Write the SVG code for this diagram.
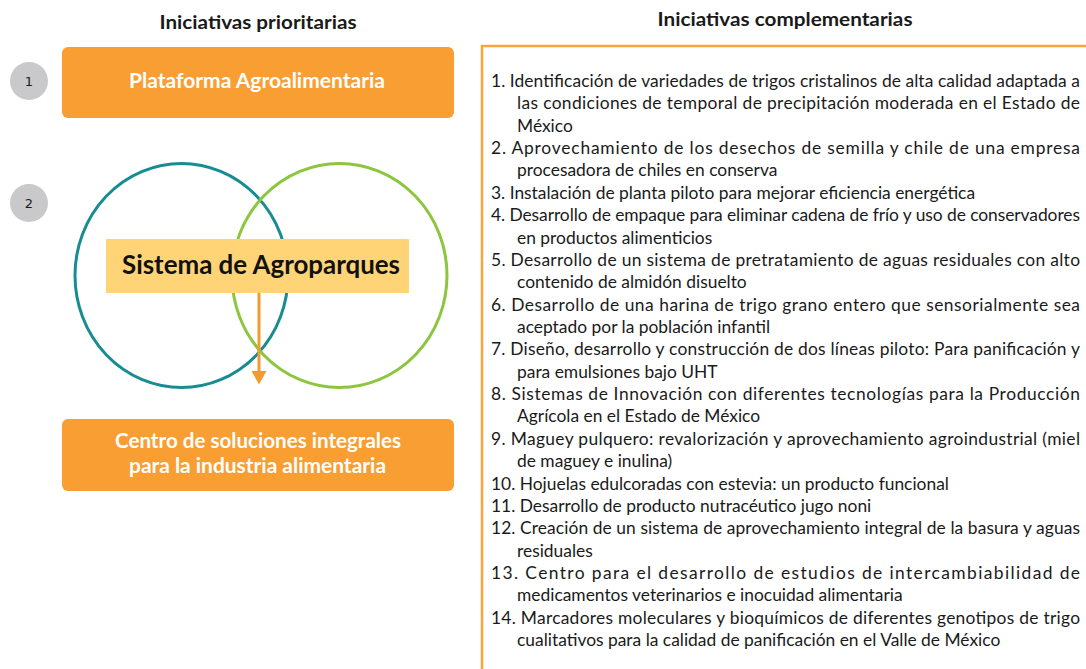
<svg xmlns="http://www.w3.org/2000/svg" width="1086" height="669" viewBox="0 0 1086 669">
<style>
.hdr{font-family:Lato,"Open Sans",sans-serif;font-weight:bold;font-size:19px;fill:#1a1a1a;text-anchor:middle}
.box{fill:#F89E33}
.boxt{font-family:Lato,"Open Sans",sans-serif;font-weight:bold;font-size:20.5px;fill:#ffffff;text-anchor:middle}
.num{fill:#C9C9CB}
.numt{font-family:"DejaVu Sans",sans-serif;font-size:13px;fill:#1a1a1a;text-anchor:middle}
.li{font-family:Lato,"Open Sans",sans-serif;font-size:17.4px;fill:#1a1a1a}
</style>
<defs>
<marker id="ah" markerWidth="5" markerHeight="5" refX="0" refY="2.5" orient="auto" markerUnits="strokeWidth">
<path d="M0,0 L4.5,2.5 L0,5 Z" fill="#F39A2E"/>
</marker>
</defs>
<rect width="1086" height="669" fill="#ffffff"/>
<text class="hdr" x="258" y="29" textLength="197" lengthAdjust="spacingAndGlyphs">Iniciativas prioritarias</text>
<text class="hdr" x="785" y="26" textLength="255" lengthAdjust="spacingAndGlyphs">Iniciativas complementarias</text>

<g id="badge1"><circle class="num" cx="29" cy="81" r="19"/><text class="numt" x="29" y="86">1</text></g>
<g id="badge2"><circle class="num" cx="29" cy="203" r="19"/><text class="numt" x="29" y="208">2</text></g>

<g id="plataforma">
<rect class="box" x="62" y="47" width="392" height="71" rx="6"/>
<text class="boxt" x="257" y="88" textLength="256" lengthAdjust="spacingAndGlyphs">Plataforma Agroalimentaria</text>
</g>

<g id="venn">
<ellipse cx="181.5" cy="275.5" rx="106.5" ry="112" fill="none" stroke="#178C92" stroke-width="3"/>
<ellipse cx="339.5" cy="275.5" rx="107.5" ry="112" fill="none" stroke="#8CC63F" stroke-width="3"/>
</g>

<g id="agroparques">
<rect x="106" y="239" width="303" height="54" fill="#FED476"/>
<text x="261" y="274" font-family="Lato,'Open Sans',sans-serif" font-weight="bold" font-size="26" fill="#111111" text-anchor="middle" textLength="278" lengthAdjust="spacingAndGlyphs">Sistema de Agroparques</text>
</g>

<g id="connectors">
<line x1="259" y1="293" x2="259" y2="371" stroke="#F39A2E" stroke-width="3" marker-end="url(#ah)"/>
</g>

<g id="centro">
<rect class="box" x="62" y="419" width="392" height="72" rx="6"/>
<text class="boxt" x="258" y="448" textLength="286" lengthAdjust="spacingAndGlyphs">Centro de soluciones integrales</text>
<text class="boxt" x="257.5" y="473" textLength="257" lengthAdjust="spacingAndGlyphs">para la industria alimentaria</text>
</g>

<g id="complementarias">
<path d="M482,1086 V46 H1086" fill="none" stroke="#F9A43C" stroke-width="2.5"/>
<text class="li" x="491" y="87" textLength="589" lengthAdjust="spacing">1. Identificación de variedades de trigos cristalinos de alta calidad adaptada a</text>
<text class="li" x="517" y="109.4" textLength="563" lengthAdjust="spacing">las condiciones de temporal de precipitación moderada en el Estado de</text>
<text class="li" x="517" y="131.7">México</text>
<text class="li" x="491" y="154.1" textLength="589" lengthAdjust="spacing">2. Aprovechamiento de los desechos de semilla y chile de una empresa</text>
<text class="li" x="517" y="176.4">procesadora de chiles en conserva</text>
<text class="li" x="491" y="198.8">3. Instalación de planta piloto para mejorar eficiencia energética</text>
<text class="li" x="491" y="221.2" textLength="589" lengthAdjust="spacing">4. Desarrollo de empaque para eliminar cadena de frío y uso de conservadores</text>
<text class="li" x="517" y="243.5">en productos alimenticios</text>
<text class="li" x="491" y="265.9" textLength="589" lengthAdjust="spacing">5. Desarrollo de un sistema de pretratamiento de aguas residuales con alto</text>
<text class="li" x="517" y="288.2">contenido de almidón disuelto</text>
<text class="li" x="491" y="310.6" textLength="589" lengthAdjust="spacing">6. Desarrollo de una harina de trigo grano entero que sensorialmente sea</text>
<text class="li" x="517" y="333">aceptado por la población infantil</text>
<text class="li" x="491" y="355.3" textLength="589" lengthAdjust="spacing">7. Diseño, desarrollo y construcción de dos líneas piloto: Para panificación y</text>
<text class="li" x="517" y="377.7">para emulsiones bajo UHT</text>
<text class="li" x="491" y="400" textLength="589" lengthAdjust="spacing">8. Sistemas de Innovación con diferentes tecnologías para la Producción</text>
<text class="li" x="517" y="422.4">Agrícola en el Estado de México</text>
<text class="li" x="491" y="444.8" textLength="589" lengthAdjust="spacing">9. Maguey pulquero: revalorización y aprovechamiento agroindustrial (miel</text>
<text class="li" x="517" y="467.1">de maguey e inulina)</text>
<text class="li" x="491" y="489.5">10. Hojuelas edulcoradas con estevia: un producto funcional</text>
<text class="li" x="491" y="511.8">11. Desarrollo de producto nutracéutico jugo noni</text>
<text class="li" x="491" y="534.2" textLength="589" lengthAdjust="spacing">12. Creación de un sistema de aprovechamiento integral de la basura y aguas</text>
<text class="li" x="517" y="556.6">residuales</text>
<text class="li" x="491" y="578.9" textLength="589" lengthAdjust="spacing">13. Centro para el desarrollo de estudios de intercambiabilidad de</text>
<text class="li" x="517" y="601.3">medicamentos veterinarios e inocuidad alimentaria</text>
<text class="li" x="491" y="623.6" textLength="589" lengthAdjust="spacing">14. Marcadores moleculares y bioquímicos de diferentes genotipos de trigo</text>
<text class="li" x="517" y="646">cualitativos para la calidad de panificación en el Valle de México</text>
</g>
</svg>
